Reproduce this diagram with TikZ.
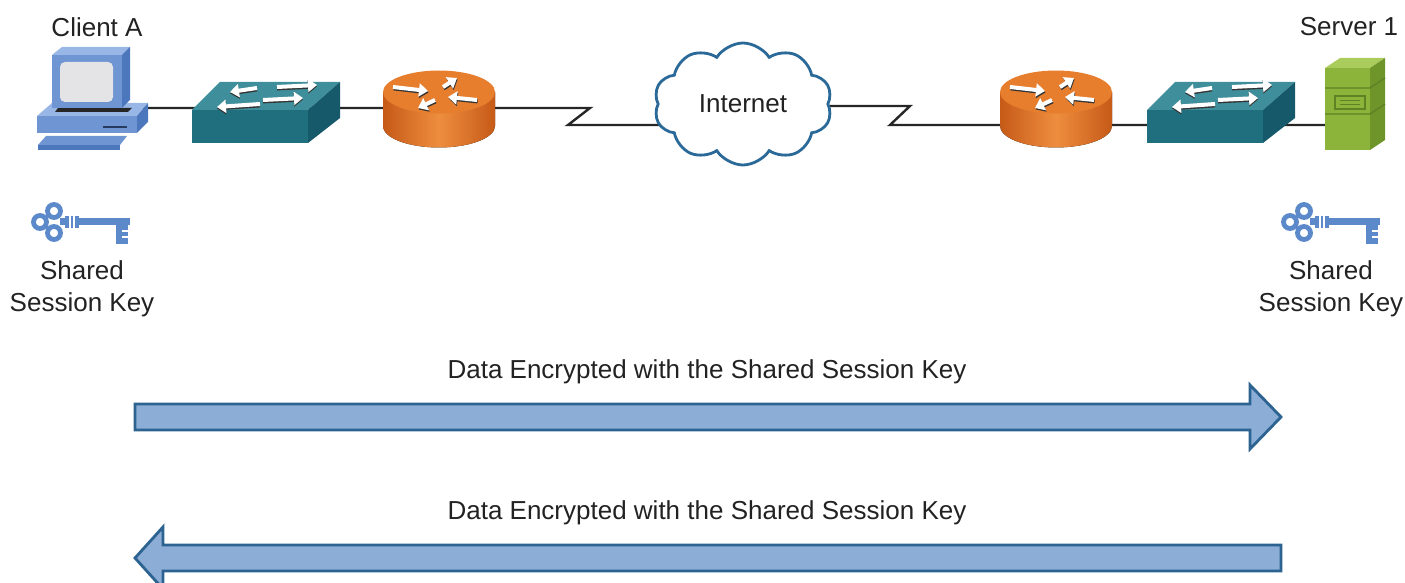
\documentclass[tikz,border=0pt]{standalone}
\usepackage{fontspec}
\setmainfont{Liberation Sans}
\usetikzlibrary{arrows.meta,shapes.symbols,backgrounds}

\definecolor{pcfront}{HTML}{6F95D2}
\definecolor{pctop}{HTML}{98B6E6}
\definecolor{pcside}{HTML}{4D77BD}
\definecolor{pcscreen}{HTML}{E4E4E6}
\definecolor{swfront}{HTML}{1F6F7E}
\definecolor{swtop}{HTML}{3F8E9B}
\definecolor{swside}{HTML}{16596A}
\definecolor{rtdark}{HTML}{C65A18}
\definecolor{rtlight}{HTML}{EE8D3E}
\definecolor{rttop}{HTML}{E77E2E}
\definecolor{svfront}{HTML}{8CB33A}
\definecolor{svtop}{HTML}{A9CC5C}
\definecolor{svside}{HTML}{6E952A}
\definecolor{svline}{HTML}{5E8224}
\definecolor{keyblue}{HTML}{5B89C9}
\definecolor{cloudline}{HTML}{2B6A98}
\definecolor{arrowfill}{HTML}{8BADD6}
\definecolor{arrowline}{HTML}{2C6391}
\definecolor{txt}{HTML}{222222}

\tikzset{
  link/.style={line width=1.2pt, black!85},
  lbl/.style={font=\fontsize{13}{16}\selectfont, text=txt, align=center, inner sep=0pt},
  flow/.style={line width=1.4pt, draw=arrowline, fill=arrowfill, line join=miter},
  whitearrow/.style={line width=2pt, white, -{Triangle[length=4.5pt,width=6.5pt]}},
  shadowarrow/.style={line width=2pt, black!80, -{Triangle[length=4.5pt,width=6.5pt]}},
  % workstation
  pics/pc/.style={code={
    \fill[pctop] (-55,16) -- (-40,3) -- (56,3) -- (45,16) -- cycle;
    \fill[pcfront] (-55,16) rectangle (45,33);
    \fill[pcside] (45,16) -- (56,3) -- (56,22) -- (45,33) -- cycle;
    \draw[pcside!50!black, line width=0.8pt] (11,27) -- (35,27);
    \fill[black!85] (-37,12) -- (-34,8) -- (40,8) -- (36,12) -- cycle;
    \fill[pcfront] (-40,-45) rectangle (30,8);
    \fill[pctop] (-40,-45) -- (-30,-53) -- (38,-53) -- (30,-45) -- cycle;
    \fill[pcside] (30,-45) -- (38,-53) -- (38,0) -- (30,8) -- cycle;
    \fill[pcscreen, rounded corners=2.5pt] (-32,-38) rectangle (21,2);
    \fill[pcfront] (-46,36) -- (35,36) -- (28,45) -- (-54,45) -- cycle;
    \fill[pcside] (-54,45) rectangle (28,50);
  }},
  % workgroup switch
  pics/switch/.style={code={
    \fill[swfront] (-74,-2) rectangle (42,31);
    \fill[swtop] (-74,-2) -- (-46,-30) -- (74,-30) -- (42,-2) -- cycle;
    \fill[swside] (42,-2) -- (74,-30) -- (74,6) -- (42,31) -- cycle;
    \foreach \xa/\ya/\xb/\yb in {-6/-8/-49/-5, -3/-12/37/-14, -9/-24/-36/-20, 11/-25/51/-27} {
      \draw[shadowarrow, shift={(0,1.4)}] (\xa,\ya) -- (\xb,\yb);
      \draw[whitearrow] (\xa,\ya) -- (\xb,\yb);
    }
  }},
  % router
  pics/router/.style={code={
    \fill[left color=rtdark, right color=rtdark, middle color=rtlight]
      (-56,-18) -- (-56,16) arc[start angle=180, end angle=0, x radius=56, y radius=21.5] -- (56,-18) -- cycle;
    \fill[rttop] (0,-18) ellipse[x radius=56, y radius=21.5];
    \foreach \xa/\ya/\xb/\yb in {-46/-23/-11/-19, 38/-10/9/-13, 4/-23/18/-32, -4/-10/-21/-2} {
      \draw[shadowarrow, shift={(0.6,1.4)}] (\xa,\ya) -- (\xb,\yb);
      \draw[whitearrow] (\xa,\ya) -- (\xb,\yb);
    }
  }},
  % file server
  pics/server/.style={code={
    \fill[svfront] (-30,-36) rectangle (15,46);
    \fill[svtop] (-30,-36) -- (-15,-46) -- (30,-46) -- (15,-36) -- cycle;
    \fill[svside] (15,-36) -- (30,-46) -- (30,36) -- (15,46) -- cycle;
    \draw[svline, line width=0.7pt] (-30,-16) -- (15,-16) -- (30,-26) (-30,10) -- (15,10) -- (30,0);
    \draw[svline, line width=0.8pt] (-20,-8) rectangle (10,5);
    \draw[svline, line width=0.8pt] (-15,-3.5) -- (5,-3.5) (-15,0.5) -- (5,0.5);
  }},
  % session key
  pics/key/.style={code={
    \draw[keyblue, line width=2.4pt] (-26,-11) circle[radius=6.5] (-40,0) circle[radius=6.5] (-26,11) circle[radius=6.5];
    \fill[keyblue] (-20,-3.5) rectangle (50,3.5);
    \fill[keyblue] (-15,-6) rectangle (-1,6.5);
    \draw[white, line width=0.6pt] (-10,-6) -- (-10,6.5) (-6,-6) -- (-6,6.5);
    \fill[keyblue] (36,3) rectangle (48,22);
    \draw[white, line width=0.7pt] (42,9) -- (48,9) (42,15) -- (48,15);
  }}
}

\begin{document}
\begin{tikzpicture}[x=0.5pt,y=-0.5pt]
  \useasboundingbox (0,0) rectangle (1405,583);

  % devices
  \coordinate (pcA) at (92,100);
  \coordinate (swA) at (266,112);
  \coordinate (rtA) at (439,110);
  \coordinate (rtB) at (1056,110);
  \coordinate (swB) at (1221,112);
  \coordinate (svB) at (1355,104);
  \coordinate (lanA) at (0,108);
  \coordinate (lanB) at (0,125);
  \coordinate (zA1) at (590,108);
  \coordinate (zA2) at (568,125);
  \coordinate (zB1) at (910,106);
  \coordinate (zB2) at (890,125);

  \pic at (pcA) {pc};
  \pic at (swA) {switch};
  \pic at (rtA) {router};
  \pic at (rtB) {router};
  \pic at (swB) {switch};
  \pic at (svB) {server};

  \node[cloud, cloud puffs=10, cloud puff arc=115, aspect=1.45, draw=cloudline, fill=white,
    line width=1.4pt, minimum width=89pt, minimum height=61pt, inner sep=0pt,
    font=\fontsize{13}{16}\selectfont, text=txt] (net) at (743,104) {Internet};

  \node[lbl] (nameA) at (97,27) {Client A};
  \node[lbl] (nameB) at (1349,27) {Server 1};

  \begin{scope}[on background layer]
    \draw[link] (pcA |- lanA) -- (zA1) -- (zA2) -- (net.center |- zA2);
    \draw[link] (net.center |- zB1) -- (zB1) -- (zB2) -- (svB |- zB2);
  \end{scope}

  % keys
  \pic at (80,222) {key};
  \pic at (1330,222) {key};
  \node[lbl] (keyA) at (82,289) {Shared\\Session Key};
  \node[lbl] (keyB) at (1331,289) {Shared\\Session Key};

  % encrypted traffic
  \node[lbl] (toSrv) at (707,372) {Data Encrypted with the Shared Session Key};
  \draw[flow] (135,404) -- (1250,404) -- (1250,385) -- (1281,417) -- (1250,449) -- (1250,430) -- (135,430) -- cycle;
  \node[lbl] (toCli) at (707,513) {Data Encrypted with the Shared Session Key};
  \draw[flow] (1281,545) -- (163,545) -- (163,527) -- (135,558) -- (163,589) -- (163,571) -- (1281,571) -- cycle;
\end{tikzpicture}
\end{document}
